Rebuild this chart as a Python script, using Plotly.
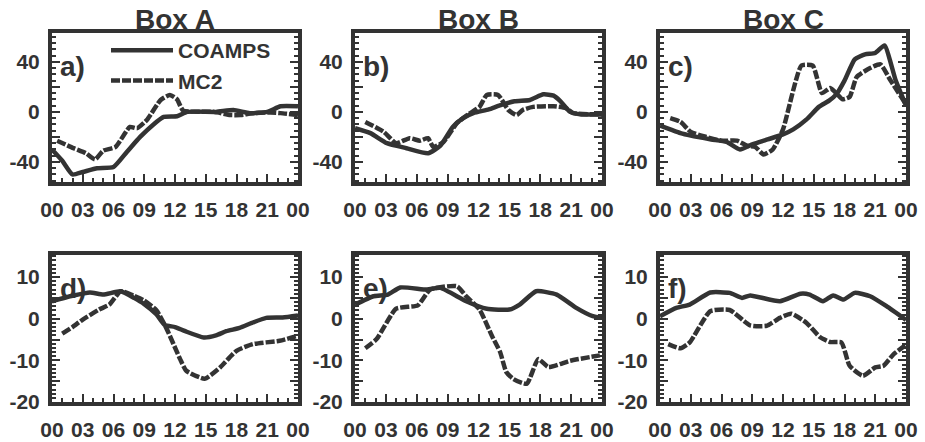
import plotly.graph_objects as go

# ---------------- data (hours since 00 UTC) ----------------
hours_coamps_a = [0, 1, 2, 3, 4.4, 6, 7.3, 8.6, 9.9, 10.9, 12.2, 13.2, 16, 17.7, 19.3, 21, 22.3, 24]
coamps_a = [-30, -39, -50, -48, -45, -44, -32, -20, -10, -4, -3.5, 0, 0, 1.5, -1, 0, 4.5, 4.5]
hours_mc2_a = [0.5, 2.1, 3.3, 4.2, 5, 6.2, 7.6, 8.3, 9.3, 10.6, 11.5, 12.2, 12.8, 15.8, 17.4, 18.4, 19.7, 21.3, 22.3, 24]
mc2_a = [-23, -29, -33, -38, -31, -28, -12, -13, -6, 9.5, 13.5, 10, 1, 0, -2.5, -2.5, -1, -0.5, -1, -2.5]

hours_coamps_b = [0, 1.5, 3.1, 5, 7.1, 8.3, 9.5, 10.5, 11.5, 13, 14, 15.5, 17, 18.3, 19.3, 19.9, 20.9, 22, 24]
coamps_b = [-13, -17, -25, -29, -33, -27, -12, -5, -1, 2, 5, 8.5, 9.5, 14, 13, 9, 0, -2, -2]
hours_mc2_b = [1, 2.8, 4, 5.3, 6.3, 7.1, 7.6, 8.6, 9.9, 11, 12.1, 12.8, 13.9, 14.9, 15.7, 16.3, 17.3, 19.3, 20.5, 21.2, 24]
mc2_b = [-8, -16, -25, -21, -23, -21, -28, -24, -9, -2, 4, 13.5, 13.5, 1.5, -2.5, 1.5, 4, 4.5, 3, -1, -2]

hours_coamps_c = [0, 1, 2, 3, 5, 6.5, 7.8, 9, 10.5, 12, 13, 14.3, 15.5, 16.5, 17.2, 18, 19, 20, 21, 21.9, 23, 24]
coamps_c = [-11, -14, -17, -19, -22, -24, -30, -26, -22, -18, -14, -6, 4, 9, 14, 25, 42, 46, 47, 53, 25, 5]
hours_mc2_c = [1, 2, 3, 4.5, 6, 7.5, 8.5, 9.3, 10.1, 11, 12, 13.8, 14.9, 15.8, 16.6, 17.3, 17.8, 18.5, 19.2, 20.5, 21.5, 22.5, 24]
mc2_c = [-5, -8, -16, -20, -23, -23, -27, -28, -34, -30, -14, 37, 37, 15, 19, 14, 10, 12, 28, 35, 38, 25, 6]

hours_coamps_d = [0, 2, 3.7, 5, 6.7, 8, 9, 10.2, 11, 12, 13, 14.8, 16, 17, 18.3, 19.5, 20.9, 22.5, 24]
coamps_d = [4.2, 5.5, 6.3, 5.8, 6.6, 5, 3.5, 1, -1.5, -2, -3, -4.5, -4, -3, -2.2, -1, 0.2, 0.3, 0.8]
hours_mc2_d = [1, 2, 3, 4.6, 5.6, 6.7, 8, 8.9, 10.2, 11.2, 12.5, 13.1, 14.9, 16.4, 18, 19.6, 22.2, 24]
mc2_d = [-3.6, -2, -0.2, 2.2, 3.4, 6.6, 5.5, 4.5, 2, -2.5, -9.7, -12.5, -14.4, -11.7, -7.7, -6.1, -5.3, -4.1]

hours_coamps_e = [0, 1.8, 3.2, 4.4, 7, 8.3, 10.8, 12.8, 15, 16, 17.6, 19.6, 21.5, 23.1, 24]
coamps_e = [3.4, 5.4, 5.8, 7.5, 7, 7.4, 4.2, 2.4, 2.2, 3.4, 6.6, 5.8, 2.6, 0.6, 0.2]
hours_mc2_e = [1, 2.1, 4, 6.1, 7.3, 9.9, 10.8, 12.1, 13.3, 14.1, 14.7, 15.4, 16.7, 17.8, 18.8, 20.9, 23.8]
mc2_e = [-7.1, -4.9, 2.4, 3.2, 7, 7.8, 5.4, 2.2, -4.1, -8, -12.8, -14.5, -15.6, -9.7, -11.6, -10.1, -8.8]

hours_coamps_f = [0, 1.6, 2.9, 4.9, 6.8, 8, 8.8, 11.7, 13.7, 14.6, 15.9, 16.9, 17.9, 19, 20.5, 22.1, 24]
coamps_f = [0.6, 2.6, 3.4, 6.3, 6.2, 5, 5.6, 4.2, 6, 5.8, 4.2, 5.6, 4.6, 6.2, 5.4, 3, -0.3]
hours_mc2_f = [0.8, 2, 2.9, 4.9, 6.8, 8.8, 10.4, 11.7, 12.8, 14.3, 15.6, 16.6, 17.7, 18.5, 19.8, 21, 21.8, 22.8, 24]
mc2_f = [-6.1, -7.1, -5.7, 1.8, 2.1, -1.6, -1.7, 0.2, 1.2, -1, -4.4, -5.6, -5.7, -11.3, -13.7, -11.7, -11.3, -8.5, -6.3]

box_titles = ["Box A", "Box B", "Box C"]
panel_labels = ["a)", "b)", "c)", "d)", "e)", "f)"]
hour_ticks = [0, 3, 6, 9, 12, 15, 18, 21, 24]
hour_labels = ["00", "03", "06", "09", "12", "15", "18", "21", "00"]
top_ticks = [-40, -20, 0, 20, 40]
top_labels = ["-40", "", "0", "", "40"]
bottom_ticks = [-20, -15, -10, -5, 0, 5, 10]
bottom_labels = ["-20", "", "-10", "", "0", "", "10"]

panels = [
    (hours_coamps_a, coamps_a, hours_mc2_a, mc2_a),
    (hours_coamps_b, coamps_b, hours_mc2_b, mc2_b),
    (hours_coamps_c, coamps_c, hours_mc2_c, mc2_c),
    (hours_coamps_d, coamps_d, hours_mc2_d, mc2_d),
    (hours_coamps_e, coamps_e, hours_mc2_e, mc2_e),
    (hours_coamps_f, coamps_f, hours_mc2_f, mc2_f),
]

# ---------------- layout geometry ----------------
W, H = 925, 442
col_px = [(52, 298), (355, 602), (660, 906)]
row_px = [(33, 182), (255, 402)]
INK = "#333333"
FONT = "Liberation Sans"

fig = go.Figure()
layout = dict(
    width=W, height=H, margin=dict(l=0, r=0, t=0, b=0, autoexpand=False),
    paper_bgcolor="white", plot_bgcolor="white",
    font=dict(family=FONT, color=INK),
    showlegend=True,
    legend=dict(x=106 / W, y=1 - 30 / H, xanchor="left", yanchor="top",
                bgcolor="rgba(0,0,0,0)", font=dict(family=FONT, size=21, weight="bold", color=INK),
                itemwidth=62, tracegroupgap=0, traceorder="normal"),
)
annotations = []

for i, (hc, vc, hm, vm) in enumerate(panels):
    r, c = divmod(i, 3)
    n = "" if i == 0 else str(i + 1)
    x0, x1 = col_px[c]
    y0, y1 = row_px[r]
    xa = "x" + n
    ya = "y" + n
    fig.add_trace(go.Scatter(x=hc, y=vc, mode="lines", name="COAMPS", xaxis=xa, yaxis=ya,
                             line=dict(color=INK, width=4.5, shape="spline", smoothing=0.5),
                             showlegend=(i == 0)))
    fig.add_trace(go.Scatter(x=hm, y=vm, mode="lines", name="MC2", xaxis=xa, yaxis=ya,
                             line=dict(color=INK, width=4.5, dash="9px,2px", shape="spline", smoothing=0.5),
                             showlegend=(i == 0)))
    tickfont = dict(family=FONT, size=21, weight="bold", color=INK)
    layout["xaxis" + n] = dict(
        domain=[x0 / W, x1 / W], anchor=ya, range=[0, 24],
        tickmode="array", tickvals=hour_ticks, ticktext=hour_labels, tickangle=0,
        ticks="inside", ticklen=8, tickwidth=2, tickcolor=INK,
        minor=dict(tickmode="linear", tick0=0, dtick=1, ticks="inside", ticklen=4, tickwidth=2, tickcolor=INK),
        showline=True, linewidth=4, linecolor=INK, mirror=True, automargin=False,
        showgrid=False, zeroline=False, tickfont=tickfont, ticklabelstandoff=6,
    )
    if r == 0:
        yr, tv, tt, md = [-56, 63], top_ticks, top_labels, 5
    else:
        yr, tv, tt, md = [-20, 15.3], bottom_ticks, bottom_labels, 1
    layout["yaxis" + n] = dict(
        domain=[1 - y1 / H, 1 - y0 / H], anchor=xa, range=yr,
        tickmode="array", tickvals=tv, ticktext=tt, tickangle=0,
        ticks="inside", ticklen=8, tickwidth=2, tickcolor=INK,
        minor=dict(tickmode="linear", tick0=0, dtick=md, ticks="inside", ticklen=4, tickwidth=2, tickcolor=INK),
        showline=True, linewidth=4, linecolor=INK, mirror="ticks", automargin=False,
        showgrid=False, zeroline=False, tickfont=tickfont, ticklabelstandoff=4,
    )
    annotations.append(dict(text=panel_labels[i], x=(x0 + 6) / W, y=1 - (y0 + 33) / H,
                            xref="paper", yref="paper", xanchor="left", yanchor="middle",
                            showarrow=False, font=dict(family=FONT, size=28, weight="bold", color=INK)))
    if r == 0:
        annotations.append(dict(text=box_titles[c], x=(x0 + x1) / 2 / W, y=1 - 20 / H,
                                xref="paper", yref="paper", xanchor="center", yanchor="middle",
                                showarrow=False, font=dict(family=FONT, size=28, weight="bold", color=INK)))

layout["annotations"] = annotations
fig.update_layout(**layout)
fig.write_html("out.html", config={"displayModeBar": False},
               post_script="document.body.style.margin='0';document.body.style.overflow='hidden';")
